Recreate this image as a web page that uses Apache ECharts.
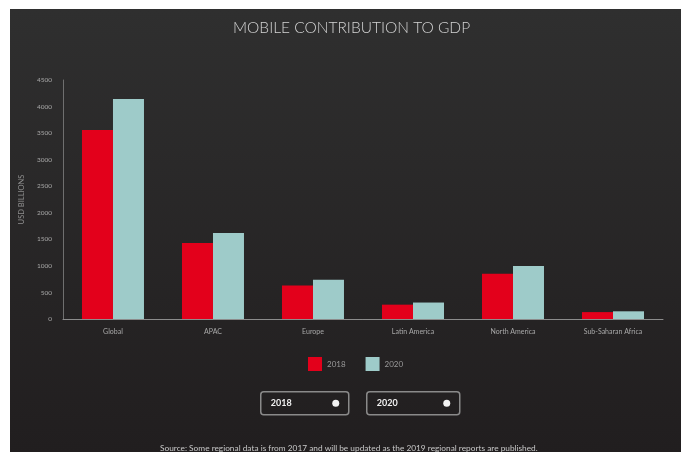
<!DOCTYPE html>
<html>
<head>
<meta charset="utf-8">
<script src="https://cdn.jsdelivr.net/npm/echarts@6/dist/echarts.min.js"></script>
<style>
html,body{margin:0;padding:0;background:#fff;width:681px;height:452px;overflow:hidden;}
#chart{position:absolute;left:10px;top:9px;width:671px;height:443px;}
</style>
</head>
<body>
<div id="chart"></div>
<script>
const categories = ['Global', 'APAC', 'Europe', 'Latin America', 'North America', 'Sub-Saharan Africa'];
const values2018 = [3560, 1430, 630, 270, 850, 130];
const values2020 = [4140, 1620, 740, 310, 1000, 145];
const yearNames = ['2018', '2020'];
const yTicks = {min: 0, max: 4500, interval: 500};
const titleText = 'MOBILE CONTRIBUTION TO GDP';
const yAxisName = 'USD BILLIONS';
const sourceText = 'Source: Some regional data is from 2017 and will be updated as the 2019 regional reports are published.';

const chart = echarts.init(document.getElementById('chart'));
const FONT = 'Lato';
function dropdown(x, w, label) {
  return {
    type: 'group', left: x, top: 382,
    children: [
      {type: 'rect', shape: {x: 0, y: 0, width: w, height: 23, r: 3}, style: {fill: 'rgba(0,0,0,0)', stroke: '#8a8a8a', lineWidth: 1.5}},
      {type: 'text', style: {x: 10, y: 11.5, text: label, fill: '#f0f0f0', font: 'bold 9px ' + FONT, textVerticalAlign: 'middle'}},
      {type: 'circle', shape: {cx: w - 13, cy: 11.5, r: 3.5}, style: {fill: '#f2f2f2'}}
    ]
  };
}
chart.setOption({
  backgroundColor: {type: 'linear', x: 0, y: 0, x2: 0, y2: 1, colorStops: [{offset: 0, color: '#2f2f2f'}, {offset: 1, color: '#211e1f'}]},
  textStyle: {fontFamily: FONT},
  title: {
    text: titleText, left: 218, top: 6,
    textStyle: {color: '#d4d4d4', fontSize: 15.5, fontWeight: 300, fontFamily: FONT}
  },
  legend: {
    data: yearNames, left: 293, top: 343, itemWidth: 14, itemHeight: 14, itemGap: 20,
    icon: 'rect',
    textStyle: {color: '#9a9a9a', fontSize: 8}
  },
  grid: {left: 44, right: 18, top: 71, bottom: 133},
  xAxis: {
    type: 'category', data: categories,
    axisLine: {lineStyle: {color: '#8c8c8c', width: 1}},
    axisTick: {show: false},
    axisLabel: {color: '#a8a8a8', fontSize: 7, margin: 9}
  },
  yAxis: {
    type: 'value', min: yTicks.min, max: yTicks.max, interval: yTicks.interval,
    name: yAxisName, nameLocation: 'middle', nameGap: 31, nameRotate: 90,
    nameTextStyle: {color: '#8f8f8f', fontSize: 7.5},
    axisLine: {show: true, lineStyle: {color: '#6f6f6f'}},
    axisTick: {show: false},
    splitLine: {show: false},
    axisLabel: {color: '#a8a8a8', fontSize: 6.5, margin: 11, formatter: v => String(v)}
  },
  series: [
    {name: yearNames[0], type: 'bar', data: values2018, barWidth: 31, barGap: '0%', itemStyle: {color: '#e3001b'}},
    {name: yearNames[1], type: 'bar', data: values2020, barWidth: 31, itemStyle: {color: '#9ecbc9'}}
  ],
  graphic: [
    dropdown(250, 88, '2018'),
    dropdown(356, 93, '2020'),
    {type: 'text', left: 150, top: 435, style: {text: sourceText, fill: '#c8c8c8', font: '8.3px ' + FONT}}
  ]
});
</script>
</body>
</html>
